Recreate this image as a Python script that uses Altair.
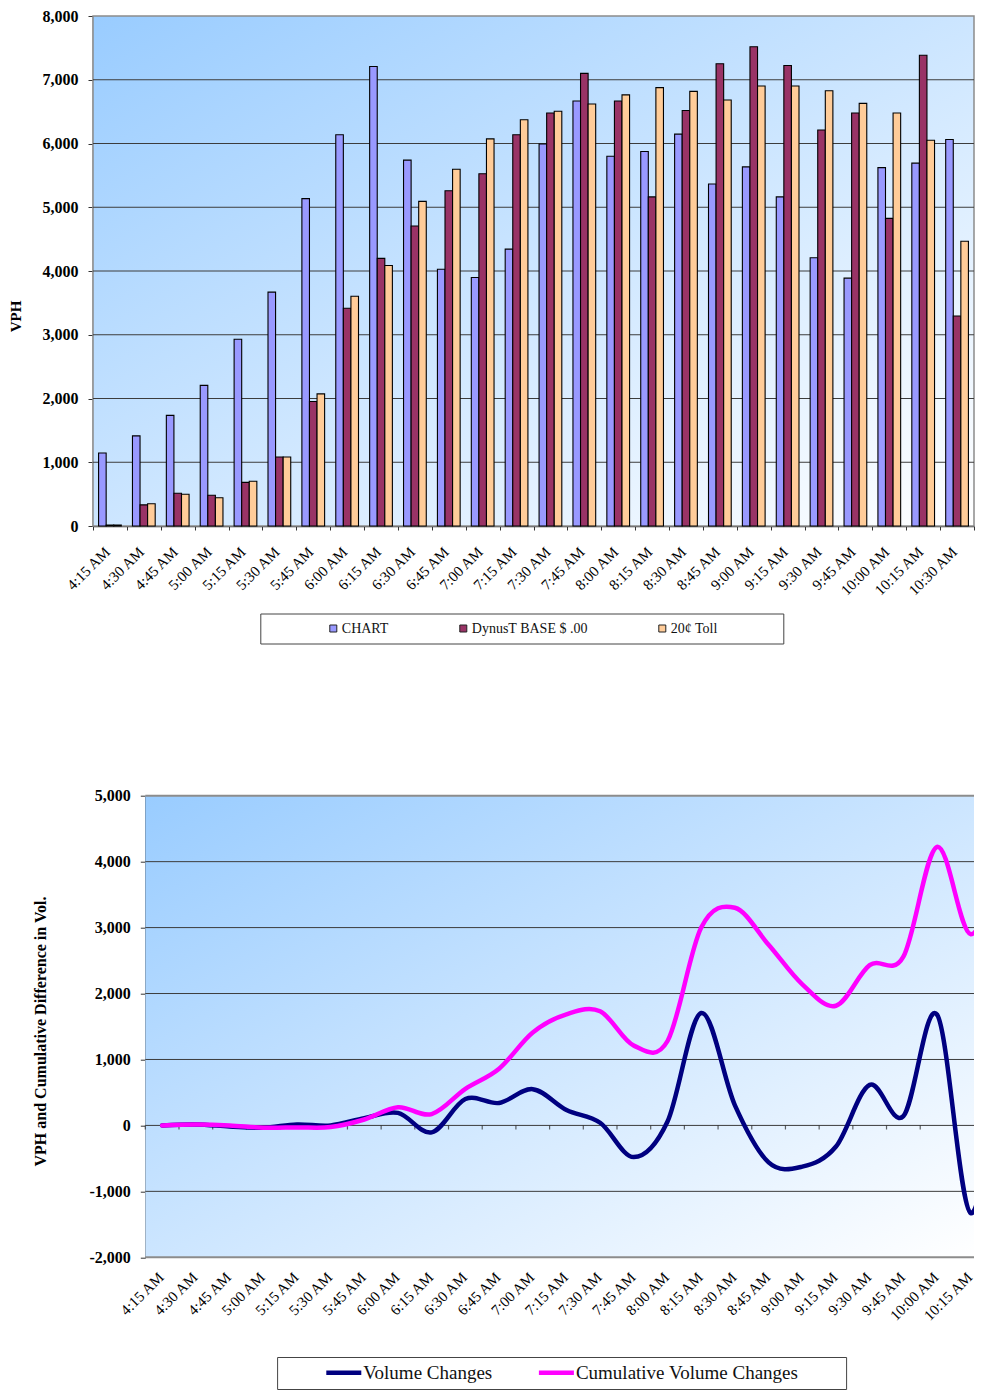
import altair as alt
import pandas as pd

# ---------------- data ----------------
times = ["4:15 AM", "4:30 AM", "4:45 AM", "5:00 AM", "5:15 AM", "5:30 AM", "5:45 AM",
         "6:00 AM", "6:15 AM", "6:30 AM", "6:45 AM", "7:00 AM", "7:15 AM", "7:30 AM",
         "7:45 AM", "8:00 AM", "8:15 AM", "8:30 AM", "8:45 AM", "9:00 AM", "9:15 AM",
         "9:30 AM", "9:45 AM", "10:00 AM", "10:15 AM", "10:30 AM"]

chart_vph = [1146, 1414, 1735, 2206, 2929, 3668, 5135, 6137, 7208, 5740, 4027, 3898, 4343,
             5992, 6667, 5799, 5874, 6147, 5365, 5633, 5162, 4209, 3888, 5622, 5692, 6062]
dynus_base = [15, 332, 514, 482, 685, 1082, 1954, 3416, 4198, 4707, 5258, 5526, 6137,
              6479, 7100, 6667, 5162, 6517, 7250, 7518, 7224, 6212, 6479, 4825, 7384, 3293]
toll_20 = [15, 348, 498, 444, 701, 1082, 2072, 3604, 4086, 5092, 5596, 6072, 6372,
           6506, 6619, 6763, 6876, 6817, 6683, 6902, 6902, 6827, 6629, 6479, 6051, 4466]

vol_changes = [0, 15, -15, -35, 15, 0, 110, 190, -105, 400, 340, 550, 235,
               40, -480, 60, 1705, 305, -560, -625, -320, 615, 140, 1680, -1330, 1170]
cum_changes = [0, 12, 0, -35, -30, -25, 90, 275, 172, 555, 860, 1410, 1685,
               1730, 1210, 1280, 3000, 3300, 2740, 2140, 1815, 2430, 2560, 4225, 2900, 4070]

bar_series = ["CHART", "DynusT BASE $ .00", "20\u00a2 Toll"]
bar_colors = ["#9999FF", "#993366", "#FFCC99"]
line_series = ["Volume Changes", "Cumulative Volume Changes"]
line_colors = ["#000080", "#FF00FF"]

top_ticks = [0, 1000, 2000, 3000, 4000, 5000, 6000, 7000, 8000]
top_grid = [1000, 2000, 3000, 4000, 5000, 6000, 7000]
bot_ticks = [-2000, -1000, 0, 1000, 2000, 3000, 4000, 5000]
bot_grid = [-1000, 0, 1000, 2000, 3000, 4000]
bot_border = [-2000, 5000]
bot_label_times = times[:-1]   # the 10:30 label falls outside the visible frame

bar_rows = []
for i, t in enumerate(times):
    for name, vals in zip(bar_series, [chart_vph, dynus_base, toll_20]):
        bar_rows.append({"time": t, "series": name, "vph": vals[i]})
bars_df = pd.DataFrame(bar_rows)

line_rows = []
for i, t in enumerate(times):
    for name, vals in zip(line_series, [vol_changes, cum_changes]):
        line_rows.append({"time": t, "series": name, "change": vals[i]})
lines_df = pd.DataFrame(line_rows)

# ---------------- style ----------------
FONT = "Liberation Serif"
TOP_W, TOP_H = 881, 510
BOT_X0, BOT_X1 = 52.3, 928.3      # band range of lower chart (extends past the frame)
BOT_W = 881                       # visible width of lower view
BOT_H = 461.6

grad = alt.Gradient(
    gradient="linear", x1=0, y1=0, x2=1, y2=1,
    stops=[alt.GradientStop(color="#99CCFF", offset=0),
           alt.GradientStop(color="#FFFFFF", offset=1)])

# ---------------- top chart ----------------
y_top = alt.Y("vph:Q",
              scale=alt.Scale(domain=[0, 8000], nice=False),
              axis=alt.Axis(values=top_ticks, labelExpr="format(datum.value, ',')",
                            grid=False, title="VPH",
                            titleFont=FONT, titleFontSize=15, titleFontWeight="bold",
                            titleColor="#000", titleAngle=270, titleAlign="center",
                            titleBaseline="middle", titleX=-77.7, titleY=300,
                            labelFont=FONT, labelFontSize=16, labelFontWeight="bold",
                            labelColor="#000", labelPadding=10, tickSize=5,
                            tickColor="#333", domainColor="#333", domainWidth=1.5))

bg_top = alt.Chart(alt.Data(values=[{"k": 0}])).mark_rect(
    fill=grad, stroke="#8C8C8C", strokeWidth=1.5).encode(
    x=alt.value(0), x2=alt.value(TOP_W), y=alt.value(0), y2=alt.value(TOP_H))

grid_top = alt.Chart(pd.DataFrame({"vph": top_grid})).mark_rule(
    color="#3C3C3C", strokeWidth=1).encode(
    y=y_top, x=alt.value(0), x2=alt.value(TOP_W))

bars = alt.Chart(bars_df).mark_bar(stroke="#000", strokeWidth=1.1).encode(
    x=alt.X("time:N", sort=times,
            scale=alt.Scale(paddingInner=0, paddingOuter=0),
            axis=alt.Axis(title=None, labelAngle=-45, labelAlign="right",
                          labelBaseline="top", labelFont=FONT, labelFontSize=15,
                          labelColor="#000", labelPadding=14, labelOffset=-8,
                          labelOverlap=False,
                          tickBand="extent", tickSize=4, tickColor="#333",
                          domainColor="#333", domainWidth=1.5)),
    xOffset=alt.XOffset("series:N", sort=bar_series,
                        scale=alt.Scale(paddingInner=0, paddingOuter=0.736)),
    y=y_top,
    color=alt.Color("series:N", sort=bar_series,
                    scale=alt.Scale(domain=bar_series, range=bar_colors),
                    legend=alt.Legend(orient="none", legendX=167.3, legendY=597.5,
                                      direction="horizontal", columns=3,
                                      title="\u00a0", titleOrient="right", titlePadding=58,
                                      padding=8, strokeColor="#444", fillColor="#FFFFFF",
                                      symbolType="square", symbolSize=49,
                                      symbolStrokeColor="#222", symbolStrokeWidth=1,
                                      symbolOffset=58, labelOffset=1.5, columnPadding=9,
                                      labelLimit=300,
                                      labelFont=FONT, labelFontSize=14, labelColor="#111")),
)

top = alt.layer(bg_top, grid_top, bars).properties(width=TOP_W, height=TOP_H)

# ---------------- bottom chart ----------------
x_scale_bot = alt.Scale(domain=times, range=[BOT_X0, BOT_X1], paddingInner=0, paddingOuter=0)

y_bot = alt.Y("change:Q",
              scale=alt.Scale(domain=[-2000, 5000], nice=False, zero=False),
              axis=alt.Axis(values=bot_ticks, grid=False, offset=-BOT_X0,
                            labelExpr="replace(format(datum.value, ','), '\u2212', '-')",
                            title="VPH and Cumulative Difference in Vol.",
                            titleFont=FONT, titleFontSize=16, titleFontWeight="bold",
                            titleColor="#000", titleAngle=270, titleAlign="center",
                            titleBaseline="middle", titleX=-105, titleY=235.3,
                            labelFont=FONT, labelFontSize=16, labelFontWeight="bold",
                            labelColor="#000", labelPadding=10, tickSize=5,
                            tickColor="#333", domainColor="#333", domainWidth=1.5))

bg_bot = alt.Chart(alt.Data(values=[{"k": 0}])).mark_rect(fill=grad).encode(
    x=alt.value(BOT_X0), x2=alt.value(BOT_W), y=alt.value(0), y2=alt.value(BOT_H))

grid_bot = alt.Chart(pd.DataFrame({"change": bot_grid})).mark_rule(
    color="#3C3C3C", strokeWidth=1).encode(
    y=y_bot, x=alt.value(BOT_X0), x2=alt.value(BOT_W))

border_bot = alt.Chart(pd.DataFrame({"change": bot_border})).mark_rule(
    color="#8C8C8C", strokeWidth=2).encode(
    y=y_bot, x=alt.value(BOT_X0), x2=alt.value(BOT_W))

ticks_bot = alt.Chart(pd.DataFrame({"time": times})).mark_tick(
    orient="vertical", size=4, thickness=1.2, yOffset=2, color="#222", clip=True).encode(
    x=alt.X("time:N", sort=times, bandPosition=0, scale=x_scale_bot),
    y=alt.datum(0))

lines = alt.Chart(lines_df).mark_line(
    strokeWidth=4.5, interpolate="cardinal", strokeCap="round", strokeJoin="round",
    clip=True).encode(
    x=alt.X("time:N", sort=times, scale=x_scale_bot,
            axis=alt.Axis(title=None, values=bot_label_times, labelAngle=-45,
                          labelAlign="right", labelBaseline="top", labelFont=FONT,
                          labelFontSize=15, labelColor="#000", labelPadding=12,
                          labelOffset=-6,
                          labelOverlap=False, ticks=False, tickSize=0, domain=False)),
    y=y_bot,
    color=alt.Color("series:N", sort=line_series,
                    scale=alt.Scale(domain=line_series, range=line_colors),
                    legend=alt.Legend(orient="none", legendX=184.1, legendY=561.3,
                                      direction="horizontal", columns=2,
                                      title="\u00a0", titleOrient="right", titlePadding=42,
                                      padding=6, strokeColor="#444", fillColor="#FFFFFF",
                                      symbolType="M-3.5,0H3.5", symbolSize=100,
                                      symbolStrokeWidth=4.5, symbolOffset=51.2,
                                      labelOffset=10, columnPadding=2.6, labelLimit=400,
                                      labelFont=FONT, labelFontSize=19, labelColor="#111")),
)

bottom = alt.layer(bg_bot, grid_bot, border_bot, ticks_bot, lines).properties(
    width=BOT_W, height=BOT_H)

chart = alt.vconcat(top, bottom, spacing=269.7, bounds="flush", padding=0).resolve_scale(
    color="independent").resolve_legend(color="independent").configure_view(stroke=None)

chart.save("out.html", embed_options={"renderer": "svg", "actions": False})
